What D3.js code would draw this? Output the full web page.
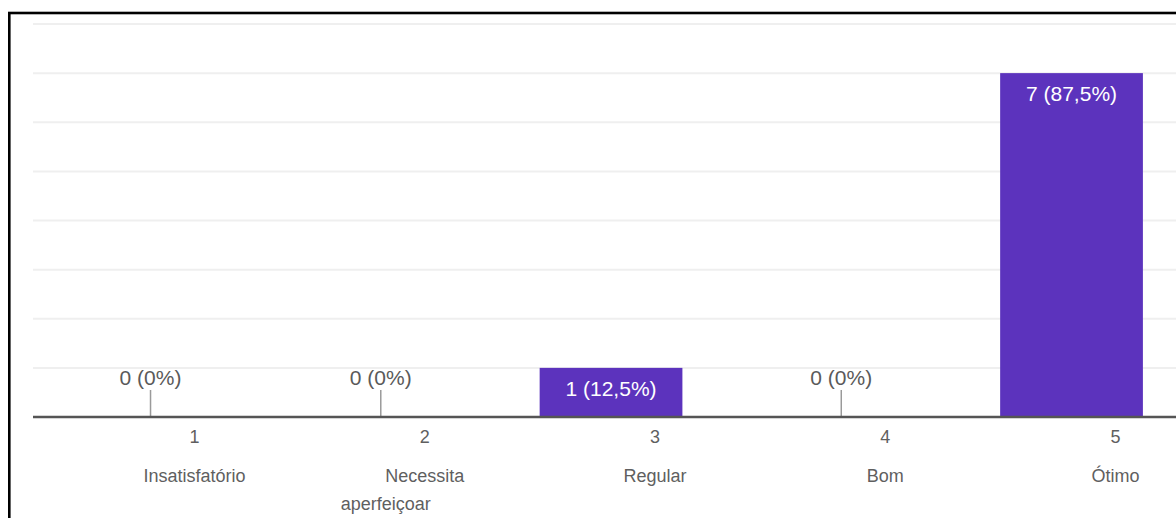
<!DOCTYPE html>
<html>
<head>
<meta charset="utf-8">
<script src="https://cdn.jsdelivr.net/npm/d3@7"></script>
<style>
  html, body { margin: 0; padding: 0; background: #fff; }
  svg { display: block; }
  text { font-family: "Liberation Sans", Arial, sans-serif; }
</style>
</head>
<body>
<svg id="chart" width="1176" height="518"></svg>
<script>
// Rating scale and answer counts
const categories = ["1", "2", "3", "4", "5"];
const categoryNames = [["Insatisfatório"], ["Necessita", "aperfeiçoar"], ["Regular"], ["Bom"], ["Ótimo"]];
const counts = [0, 0, 1, 0, 7];
const yMax = 8;

const total = d3.sum(counts);
const ptBR = d3.formatLocale({ decimal: ",", thousands: ".", grouping: [3], currency: ["R$", ""] });
const pct = v => {
  const p = v / total * 100;
  return (Number.isInteger(p) ? ptBR.format("d")(p) : ptBR.format(".1f")(p)) + "%";
};

const svg = d3.select("#chart");
const W = 1176, H = 518;

// Frame
svg.append("rect")
  .attr("x", 9.3).attr("y", 13)
  .attr("width", W + 20).attr("height", H + 20)
  .attr("fill", "none").attr("stroke", "#000").attr("stroke-width", 2.6);

const plotLeft = 35.4, step = 230.25;
const x = d3.scaleBand()
  .domain(categories)
  .range([plotLeft, plotLeft + step * categories.length])
  .paddingInner(0.38)
  .paddingOuter(0.19);

const y = d3.scaleLinear().domain([0, yMax]).range([417, 24]);

// Horizontal gridlines
svg.append("g")
  .selectAll("line")
  .data(y.ticks(yMax).filter(t => t > 0))
  .join("line")
  .attr("x1", 33).attr("x2", W)
  .attr("y1", d => y(d)).attr("y2", d => y(d))
  .attr("stroke", "#efefef").attr("stroke-width", 2);

const data = categories.map((c, i) => ({ c, n: counts[i], names: categoryNames[i] }));

// Bars
svg.append("g")
  .selectAll("rect")
  .data(data.filter(d => d.n > 0))
  .join("rect")
  .attr("x", d => x(d.c))
  .attr("width", x.bandwidth())
  .attr("y", d => y(d.n))
  .attr("height", d => y(0) - y(d.n))
  .attr("fill", "#5c33bd");

// Value labels inside bars
svg.append("g")
  .selectAll("text")
  .data(data.filter(d => d.n > 0))
  .join("text")
  .attr("x", d => x(d.c) + x.bandwidth() / 2)
  .attr("y", d => y(d.n) + 28)
  .attr("text-anchor", "middle")
  .attr("font-size", 21)
  .attr("fill", "#fff")
  .text(d => `${d.n} (${pct(d.n)})`);

// Stub markers and labels for empty categories
const zeros = svg.append("g").selectAll("g")
  .data(data.filter(d => d.n === 0))
  .join("g");
zeros.append("line")
  .attr("x1", d => x(d.c) + x.bandwidth() / 2)
  .attr("x2", d => x(d.c) + x.bandwidth() / 2)
  .attr("y1", y(0) - 27).attr("y2", y(0))
  .attr("stroke", "#9a9a9a").attr("stroke-width", 1.5);
zeros.append("text")
  .attr("x", d => x(d.c) + x.bandwidth() / 2)
  .attr("y", y(0) - 32)
  .attr("text-anchor", "middle")
  .attr("font-size", 21)
  .attr("fill", "#5a5a5a")
  .text(d => `${d.n} (${pct(d.n)})`);

// Baseline
svg.append("line")
  .attr("x1", 33).attr("x2", W)
  .attr("y1", y(0)).attr("y2", y(0))
  .attr("stroke", "#555").attr("stroke-width", 2.4);

// Category labels
const labelShift = 44;
const lab = svg.append("g").selectAll("g")
  .data(data)
  .join("g");
lab.append("text")
  .attr("x", d => x(d.c) + x.bandwidth() / 2 + labelShift)
  .attr("y", 443)
  .attr("text-anchor", "middle")
  .attr("font-size", 18)
  .attr("fill", "#5f5f5f")
  .text(d => d.c);
lab.each(function (d) {
  const cx = x(d.c) + x.bandwidth() / 2;
  d.names.forEach((name, k) => {
    d3.select(this).append("text")
      .attr("x", k === 0 ? cx + labelShift : cx + 5)
      .attr("y", 482 + k * 28)
      .attr("text-anchor", "middle")
      .attr("font-size", 18)
      .attr("fill", "#5f5f5f")
      .text(name);
  });
});
</script>
</body>
</html>
